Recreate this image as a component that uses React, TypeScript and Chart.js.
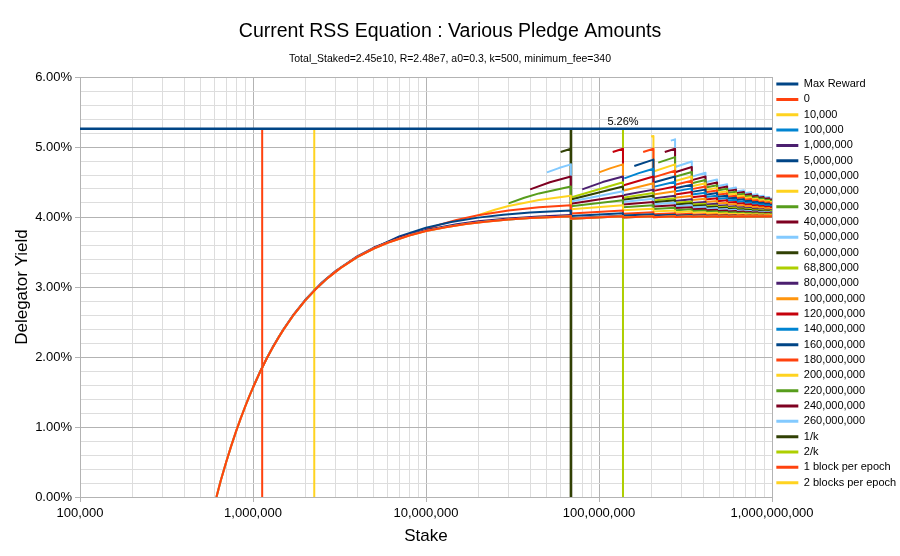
import React, { useEffect, useRef } from 'react';
import { Chart, registerables } from 'chart.js';

Chart.register(...registerables);

const FONT = "'Liberation Sans', Arial, Helvetica, sans-serif";

const TITLE = 'Current RSS Equation : Various Pledge Amounts';
const SUBTITLE = 'Total_Staked=2.45e10, R=2.48e7, a0=0.3, k=500, minimum_fee=340';
const X_TITLE = 'Stake';
const Y_TITLE = 'Delegator Yield';

// Stake values are in millions of ADA, yields in percent.
const X_MIN = 0.1;
const X_MAX = 1000;
const X_DECADES = [0.1, 1, 10, 100, 1000];
const Y_MIN = 0;
const Y_MAX = 6;
const Y_MINOR_STEP = 0.2;

// saturation multiples (n/k) where the pool is split
const SAT_BOUNDS = [68.8, 137.6, 206.4, 275.2, 344, 412.8, 481.6, 550.4, 619.2, 688, 756.8, 825.6, 894.4, 963.2];
const STAKE_END = 1000;

const MAX_REWARD = 5.26;
const MAX_REWARD_STAKES = [0.1, 137.6, 1000];
const MAX_LABEL_STAKE = 137.6;
const ONE_K = 68.8;
const TWO_K = 137.6;
const ONE_BLOCK = 1.13;
const TWO_BLOCKS = 2.26;

// each series: curve up to its first split, then [end, restart] pairs at each bound, then value at 1e9
const P0_HEAD: [number, number][] = [[0.615, 0], [0.65, 0.228], [0.7, 0.5], [0.75, 0.737], [0.8, 0.944], [0.85, 1.126], [0.9, 1.288], [0.95, 1.433], [1, 1.564], [1.1, 1.79], [1.2, 1.978], [1.3, 2.137], [1.4, 2.273], [1.5, 2.391], [1.7, 2.586], [2, 2.805], [2.3, 2.967], [2.7, 3.127], [3.2, 3.27], [4, 3.426], [5, 3.55], [6, 3.632], [8, 3.736], [10, 3.8], [13, 3.855], [17, 3.9], [22, 3.933], [30, 3.963], [40, 3.984], [52, 3.998]];
const P0_SAW = [4.010, 3.974, 4.010, 3.992, 4.010, 3.998, 4.010, 4.001, 4.010, 4.003, 4.010, 4.004, 4.010, 4.005, 4.010, 4.005, 4.010, 4.006, 4.010, 4.006, 4.010, 4.007, 4.010, 4.007, 4.010, 4.007, 4.010, 4.007, 4.009];

const P10K_HEAD: [number, number][] = [[0.615, 0], [0.65, 0.228], [0.7, 0.5], [0.75, 0.737], [0.8, 0.944], [0.85, 1.126], [0.9, 1.288], [0.95, 1.433], [1, 1.564], [1.1, 1.79], [1.2, 1.978], [1.3, 2.137], [1.4, 2.273], [1.5, 2.391], [1.7, 2.586], [2, 2.805], [2.3, 2.967], [2.7, 3.127], [3.2, 3.27], [4, 3.426], [5, 3.55], [6, 3.632], [8, 3.736], [10, 3.8], [13, 3.855], [17, 3.9], [22, 3.933], [30, 3.963], [40, 3.984], [52, 3.998]];
const P10K_SAW = [4.010, 3.974, 4.010, 3.992, 4.010, 3.998, 4.010, 4.001, 4.010, 4.003, 4.010, 4.004, 4.010, 4.005, 4.010, 4.005, 4.010, 4.006, 4.010, 4.006, 4.010, 4.007, 4.010, 4.007, 4.010, 4.007, 4.010, 4.007, 4.009];

const P100K_HEAD: [number, number][] = [[0.615, 0.001], [0.65, 0.229], [0.7, 0.501], [0.75, 0.738], [0.8, 0.945], [0.85, 1.127], [0.9, 1.289], [0.95, 1.434], [1, 1.565], [1.1, 1.791], [1.2, 1.98], [1.3, 2.139], [1.4, 2.275], [1.5, 2.393], [1.7, 2.588], [2, 2.807], [2.3, 2.969], [2.7, 3.129], [3.2, 3.272], [4, 3.428], [5, 3.552], [6, 3.634], [8, 3.738], [10, 3.802], [13, 3.857], [17, 3.902], [22, 3.935], [30, 3.965], [40, 3.986], [52, 4.0]];
const P100K_SAW = [4.012, 3.975, 4.011, 3.993, 4.011, 3.999, 4.010, 4.002, 4.010, 4.003, 4.010, 4.004, 4.010, 4.005, 4.010, 4.005, 4.010, 4.006, 4.010, 4.006, 4.010, 4.007, 4.010, 4.007, 4.010, 4.007, 4.010, 4.007, 4.009];

const P1M_HEAD: [number, number][] = [[1, 1.564], [1.1, 1.792], [1.2, 1.979], [1.3, 2.141], [1.5, 2.397], [1.7, 2.593], [2, 2.814], [2.5, 3.064], [3, 3.229], [4, 3.439], [5, 3.564], [7, 3.706], [10, 3.814], [15, 3.897], [20, 3.939], [30, 3.98], [45, 4.008]];
const P1M_SAW = [4.027, 3.983, 4.019, 3.998, 4.016, 4.002, 4.014, 4.005, 4.014, 4.006, 4.013, 4.007, 4.013, 4.007, 4.012, 4.007, 4.012, 4.008, 4.012, 4.008, 4.012, 4.008, 4.011, 4.008, 4.011, 4.008, 4.011, 4.009, 4.010];

const P5M_HEAD: [number, number][] = [[5, 3.556], [7, 3.721], [10, 3.846], [14, 3.929], [20, 3.991], [28, 4.032], [40, 4.063], [52, 4.08]];
const P5M_SAW = [4.094, 4.015, 4.053, 4.021, 4.039, 4.020, 4.032, 4.018, 4.027, 4.018, 4.025, 4.016, 4.022, 4.016, 4.021, 4.015, 4.020, 4.015, 4.019, 4.014, 4.018, 4.014, 4.017, 4.014, 4.017, 4.013, 4.016, 4.013, 4.015];

const P10M_HEAD: [number, number][] = [[10, 3.824], [12, 3.891], [15, 3.958], [20, 4.026], [30, 4.093], [45, 4.138]];
const P10M_SAW = [4.169, 4.051, 4.094, 4.047, 4.067, 4.040, 4.053, 4.035, 4.045, 4.031, 4.039, 4.029, 4.035, 4.026, 4.032, 4.025, 4.029, 4.023, 4.027, 4.022, 4.026, 4.021, 4.025, 4.020, 4.023, 4.020, 4.022, 4.019, 4.020];

const P20M_HEAD: [number, number][] = [[20, 4.025], [25, 4.104], [30, 4.156], [45, 4.244]];
const P20M_SAW = [4.305, 4.110, 4.169, 4.096, 4.119, 4.079, 4.094, 4.068, 4.078, 4.059, 4.067, 4.053, 4.059, 4.047, 4.053, 4.044, 4.048, 4.040, 4.045, 4.038, 4.041, 4.035, 4.039, 4.034, 4.037, 4.032, 4.035, 4.030, 4.032];

const P30M_HEAD: [number, number][] = [[30, 4.194], [37, 4.275], [45, 4.337]];
const P30M_SAW = [4.435, 4.155, 4.239, 4.140, 4.169, 4.116, 4.132, 4.098, 4.109, 4.085, 4.094, 4.075, 4.082, 4.068, 4.073, 4.062, 4.067, 4.057, 4.061, 4.053, 4.057, 4.049, 4.053, 4.046, 4.050, 4.044, 4.047, 4.042, 4.043];

const P40M_HEAD: [number, number][] = [[40, 4.394], [52, 4.496]];
const P40M_SAW = [4.578, 4.190, 4.305, 4.179, 4.216, 4.149, 4.169, 4.127, 4.140, 4.110, 4.119, 4.097, 4.105, 4.087, 4.094, 4.079, 4.085, 4.073, 4.078, 4.068, 4.072, 4.063, 4.067, 4.059, 4.062, 4.056, 4.059, 4.053, 4.054];

const P50M_HEAD: [number, number][] = [[50, 4.637], [58.6, 4.699]];
const P50M_SAW = [4.752, 4.220, 4.369, 4.214, 4.261, 4.181, 4.204, 4.154, 4.169, 4.134, 4.145, 4.119, 4.127, 4.106, 4.113, 4.097, 4.102, 4.089, 4.094, 4.082, 4.086, 4.076, 4.080, 4.072, 4.075, 4.067, 4.071, 4.064, 4.065];

const P60M_HEAD: [number, number][] = [[60, 4.928]];
const P60M_SAW = [4.974, 4.249, 4.435, 4.247, 4.305, 4.211, 4.239, 4.180, 4.197, 4.157, 4.169, 4.139, 4.148, 4.125, 4.132, 4.114, 4.119, 4.104, 4.109, 4.096, 4.101, 4.090, 4.094, 4.084, 4.087, 4.079, 4.082, 4.075, 4.076];

const P68M8_HEAD: [number, number][] = [[68.8, 4.278]];
const P68M8_SAW = [4.496, 4.275, 4.343, 4.236, 4.268, 4.203, 4.222, 4.177, 4.190, 4.157, 4.166, 4.141, 4.149, 4.128, 4.134, 4.117, 4.123, 4.108, 4.113, 4.101, 4.105, 4.094, 4.098, 4.089, 4.092, 4.084, 4.085];

const P80M_HEAD: [number, number][] = [[80, 4.394], [105, 4.499]];
const P80M_SAW = [4.578, 4.310, 4.391, 4.266, 4.305, 4.230, 4.252, 4.201, 4.216, 4.178, 4.189, 4.160, 4.169, 4.146, 4.153, 4.134, 4.140, 4.124, 4.129, 4.115, 4.119, 4.108, 4.112, 4.101, 4.105, 4.096, 4.097];

const P100M_HEAD: [number, number][] = [[100, 4.637], [117, 4.698]];
const P100M_SAW = [4.752, 4.375, 4.481, 4.320, 4.369, 4.276, 4.305, 4.242, 4.261, 4.216, 4.229, 4.194, 4.204, 4.177, 4.185, 4.162, 4.169, 4.150, 4.156, 4.140, 4.145, 4.131, 4.135, 4.123, 4.127, 4.116, 4.118];

const P120M_HEAD: [number, number][] = [[120, 4.928]];
const P120M_SAW = [4.974, 4.451, 4.578, 4.373, 4.435, 4.321, 4.357, 4.282, 4.305, 4.251, 4.267, 4.226, 4.239, 4.206, 4.216, 4.190, 4.197, 4.176, 4.182, 4.163, 4.169, 4.153, 4.158, 4.144, 4.148, 4.136, 4.138];

const P140M_HEAD: [number, number][] = [[140, 4.551], [170, 4.627]];
const P140M_SAW = [4.690, 4.430, 4.504, 4.366, 4.409, 4.321, 4.348, 4.286, 4.305, 4.258, 4.272, 4.235, 4.246, 4.216, 4.225, 4.200, 4.208, 4.187, 4.193, 4.175, 4.180, 4.164, 4.169, 4.155, 4.157];

const P160M_HEAD: [number, number][] = [[160, 4.729]];
const P160M_SAW = [4.820, 4.493, 4.578, 4.412, 4.462, 4.359, 4.391, 4.319, 4.342, 4.288, 4.305, 4.263, 4.276, 4.242, 4.252, 4.224, 4.232, 4.209, 4.216, 4.196, 4.202, 4.184, 4.189, 4.174, 4.176];

const P180M_HEAD: [number, number][] = [[180, 4.928]];
const P180M_SAW = [4.974, 4.566, 4.660, 4.461, 4.518, 4.398, 4.435, 4.353, 4.379, 4.318, 4.337, 4.290, 4.305, 4.267, 4.279, 4.248, 4.257, 4.231, 4.239, 4.216, 4.223, 4.204, 4.209, 4.192, 4.195];

const P200M_HEAD: [number, number][] = [[200, 5.149]];
const P200M_SAW = [5.158, 4.651, 4.752, 4.514, 4.578, 4.439, 4.481, 4.387, 4.416, 4.348, 4.369, 4.317, 4.334, 4.292, 4.305, 4.271, 4.281, 4.252, 4.261, 4.237, 4.244, 4.223, 4.229, 4.210, 4.213];

const P220M_HEAD: [number, number][] = [[220, 4.777]];
const P220M_SAW = [4.856, 4.574, 4.643, 4.482, 4.528, 4.422, 4.454, 4.378, 4.402, 4.344, 4.362, 4.316, 4.331, 4.293, 4.305, 4.273, 4.283, 4.256, 4.264, 4.241, 4.248, 4.228, 4.231];

const P240M_HEAD: [number, number][] = [[240, 4.928]];
const P240M_SAW = [4.974, 4.640, 4.714, 4.527, 4.578, 4.458, 4.494, 4.408, 4.435, 4.371, 4.391, 4.341, 4.357, 4.315, 4.328, 4.294, 4.305, 4.276, 4.285, 4.260, 4.267, 4.246, 4.249];

const P260M_HEAD: [number, number][] = [[260, 5.091]];
const P260M_SAW = [5.109, 4.714, 4.792, 4.577, 4.632, 4.496, 4.535, 4.440, 4.469, 4.398, 4.420, 4.365, 4.382, 4.338, 4.352, 4.315, 4.326, 4.295, 4.305, 4.278, 4.286, 4.263, 4.266];

const PLEDGE_SERIES = [
  { label: '0', color: '#ff420e', head: P0_HEAD, saw: P0_SAW },
  { label: '10,000', color: '#ffd320', head: P10K_HEAD, saw: P10K_SAW },
  { label: '100,000', color: '#0084d1', head: P100K_HEAD, saw: P100K_SAW },
  { label: '1,000,000', color: '#4b1f6f', head: P1M_HEAD, saw: P1M_SAW },
  { label: '5,000,000', color: '#004586', head: P5M_HEAD, saw: P5M_SAW },
  { label: '10,000,000', color: '#ff420e', head: P10M_HEAD, saw: P10M_SAW },
  { label: '20,000,000', color: '#ffd320', head: P20M_HEAD, saw: P20M_SAW },
  { label: '30,000,000', color: '#579d1c', head: P30M_HEAD, saw: P30M_SAW },
  { label: '40,000,000', color: '#7e0021', head: P40M_HEAD, saw: P40M_SAW },
  { label: '50,000,000', color: '#83caff', head: P50M_HEAD, saw: P50M_SAW },
  { label: '60,000,000', color: '#314004', head: P60M_HEAD, saw: P60M_SAW },
  { label: '68,800,000', color: '#aecf00', head: P68M8_HEAD, saw: P68M8_SAW },
  { label: '80,000,000', color: '#4b1f6f', head: P80M_HEAD, saw: P80M_SAW },
  { label: '100,000,000', color: '#ff950e', head: P100M_HEAD, saw: P100M_SAW },
  { label: '120,000,000', color: '#c5000b', head: P120M_HEAD, saw: P120M_SAW },
  { label: '140,000,000', color: '#0084d1', head: P140M_HEAD, saw: P140M_SAW },
  { label: '160,000,000', color: '#004586', head: P160M_HEAD, saw: P160M_SAW },
  { label: '180,000,000', color: '#ff420e', head: P180M_HEAD, saw: P180M_SAW },
  { label: '200,000,000', color: '#ffd320', head: P200M_HEAD, saw: P200M_SAW },
  { label: '220,000,000', color: '#579d1c', head: P220M_HEAD, saw: P220M_SAW },
  { label: '240,000,000', color: '#7e0021', head: P240M_HEAD, saw: P240M_SAW },
  { label: '260,000,000', color: '#83caff', head: P260M_HEAD, saw: P260M_SAW },
];

const VERTICAL_SERIES = [
  { label: '1/k', color: '#314004', stake: ONE_K, width: 2.5 },
  { label: '2/k', color: '#aecf00', stake: TWO_K, width: 2 },
  { label: '1 block per epoch', color: '#ff420e', stake: ONE_BLOCK, width: 2 },
  { label: '2 blocks per epoch', color: '#ffd320', stake: TWO_BLOCKS, width: 2 },
];

const GRID_MAJOR = '#b3b3b3';
const GRID_MINOR = '#dddddd';

function sawPoints(head: [number, number][], saw: number[]) {
  const pts = head.map(([x, y]) => ({ x, y }));
  const lastX = head[head.length - 1][0];
  let k = 0;
  for (let i = SAT_BOUNDS.findIndex((b) => b > lastX); i >= 0 && i < SAT_BOUNDS.length; i++) {
    pts.push({ x: SAT_BOUNDS[i], y: saw[k++] });
    pts.push({ x: SAT_BOUNDS[i], y: saw[k++] });
  }
  pts.push({ x: STAKE_END, y: saw[k] });
  return pts;
}

function xTickValues() {
  const vals: number[] = [];
  for (let d = 0; d < X_DECADES.length - 1; d++) {
    for (let m = 1; m <= 9; m++) vals.push(m * X_DECADES[d]);
  }
  vals.push(X_DECADES[X_DECADES.length - 1]);
  return vals;
}

function isDecade(v: number) {
  return X_DECADES.some((d) => Math.abs(v / d - 1) < 1e-9);
}

function yTickValues() {
  const vals: number[] = [];
  const n = Math.round((Y_MAX - Y_MIN) / Y_MINOR_STEP);
  for (let i = 0; i <= n; i++) vals.push(Math.round((Y_MIN + i * Y_MINOR_STEP) * 1000) / 1000);
  return vals;
}

function isWholePercent(v: number) {
  return Math.abs(v - Math.round(v)) < 1e-6;
}

const maxLabelPlugin = {
  id: 'maxLabel',
  afterDatasetsDraw(chart: any) {
    const { ctx, scales } = chart;
    const x = scales.x.getPixelForValue(MAX_LABEL_STAKE);
    const y = scales.y.getPixelForValue(MAX_REWARD);
    ctx.save();
    ctx.font = `11px ${FONT}`;
    ctx.fillStyle = '#000';
    ctx.textAlign = 'center';
    ctx.textBaseline = 'alphabetic';
    ctx.fillText(`${MAX_REWARD.toFixed(2)}%`, x, y - 4);
    ctx.restore();
  },
};

export default function App() {
  const canvasRef = useRef<HTMLCanvasElement | null>(null);

  useEffect(() => {
    const canvas = canvasRef.current;
    if (!canvas) return;

    const datasets: any[] = [
      {
        label: 'Max Reward',
        data: MAX_REWARD_STAKES.map((x) => ({ x, y: MAX_REWARD })),
        borderColor: '#004586',
        backgroundColor: '#004586',
        borderWidth: 2.5,
      },
      ...PLEDGE_SERIES.map((s) => ({
        label: s.label,
        data: sawPoints(s.head, s.saw),
        borderColor: s.color,
        backgroundColor: s.color,
        borderWidth: 2,
      })),
      ...VERTICAL_SERIES.map((s) => ({
        label: s.label,
        data: [{ x: s.stake, y: Y_MIN }, { x: s.stake, y: MAX_REWARD }],
        borderColor: s.color,
        backgroundColor: s.color,
        borderWidth: s.width,
      })),
    ];

    const chart = new Chart(canvas, {
      type: 'line',
      data: { datasets },
      options: {
        responsive: false,
        animation: false,
        devicePixelRatio: 1,
        layout: { padding: { top: 10.7, right: 0, bottom: 0, left: 0 } },
        elements: {
          point: { radius: 0, hitRadius: 0, hoverRadius: 0 },
          line: { tension: 0, borderCapStyle: 'butt', borderJoinStyle: 'round' },
        },
        plugins: {
          title: {
            display: true,
            text: TITLE,
            color: '#000',
            font: { family: FONT, size: 19.5, weight: 'normal' },
            padding: { top: 9.6, bottom: 0 },
          },
          subtitle: {
            display: true,
            text: SUBTITLE,
            color: '#000',
            font: { family: FONT, size: 10.5, weight: 'normal' },
            padding: { top: 9, bottom: 11.7 },
          },
          legend: {
            position: 'right',
            align: 'center',
            maxWidth: 128,
            labels: {
              usePointStyle: true,
              pointStyle: 'line',
              pointStyleWidth: 22,
              padding: 4.33,
              color: '#000',
              font: { family: FONT, size: 11 },
              generateLabels: (c: any) =>
                c.data.datasets.map((ds: any, i: number) => ({
                  text: ds.label,
                  fillStyle: ds.borderColor,
                  strokeStyle: ds.borderColor,
                  fontColor: '#000',
                  lineWidth: 3,
                  lineCap: 'butt',
                  pointStyle: 'line',
                  hidden: false,
                  datasetIndex: i,
                })),
            },
          },
          tooltip: { enabled: false },
        },
        scales: {
          x: {
            type: 'logarithmic',
            min: X_MIN,
            max: X_MAX,
            afterBuildTicks: (scale: any) => {
              scale.ticks = xTickValues().map((v) => ({ value: v, major: isDecade(v) }));
            },
            afterFit: (scale: any) => {
              scale.height = 59;
            },
            border: { color: GRID_MAJOR, width: 1 },
            grid: {
              color: (ctx: any) => (ctx.tick && isDecade(ctx.tick.value) ? GRID_MAJOR : GRID_MINOR),
              tickColor: (ctx: any) => (ctx.tick && isDecade(ctx.tick.value) ? GRID_MAJOR : 'rgba(0,0,0,0)'),
              tickLength: 5,
              lineWidth: 1,
            },
            ticks: {
              autoSkip: false,
              maxRotation: 0,
              minRotation: 0,
              padding: 4,
              color: '#000',
              font: { family: FONT, size: 13 },
              callback: (v: any) => (isDecade(Number(v)) ? Math.round(Number(v) * 1e6).toLocaleString('en-US') : ''),
            },
            title: {
              display: true,
              text: X_TITLE,
              color: '#000',
              font: { family: FONT, size: 17 },
              padding: { top: 4, bottom: 9.8 },
            },
          },
          y: {
            type: 'linear',
            min: Y_MIN,
            max: Y_MAX,
            afterBuildTicks: (scale: any) => {
              scale.ticks = yTickValues().map((v) => ({ value: v }));
            },
            afterFit: (scale: any) => {
              scale.width = 80;
            },
            border: { color: GRID_MAJOR, width: 1 },
            grid: {
              color: (ctx: any) => (ctx.tick && isWholePercent(ctx.tick.value) ? GRID_MAJOR : GRID_MINOR),
              tickColor: (ctx: any) => (ctx.tick && isWholePercent(ctx.tick.value) ? GRID_MAJOR : 'rgba(0,0,0,0)'),
              tickLength: 5,
              lineWidth: 1,
            },
            ticks: {
              autoSkip: false,
              padding: 3,
              color: '#000',
              font: { family: FONT, size: 13 },
              callback: (v: any) => (isWholePercent(Number(v)) ? `${Number(v).toFixed(2)}%` : ''),
            },
            title: {
              display: true,
              text: Y_TITLE,
              color: '#000',
              font: { family: FONT, size: 17 },
              padding: { top: 11.8, bottom: 4 },
            },
          },
        },
      },
      plugins: [maxLabelPlugin],
    } as any);

    return () => chart.destroy();
  }, []);

  return (
    <div style={{ position: 'absolute', left: 0, top: 0, width: 900, height: 556, background: '#fff' }}>
      <canvas ref={canvasRef} width={900} height={556} style={{ display: 'block' }} />
    </div>
  );
}
